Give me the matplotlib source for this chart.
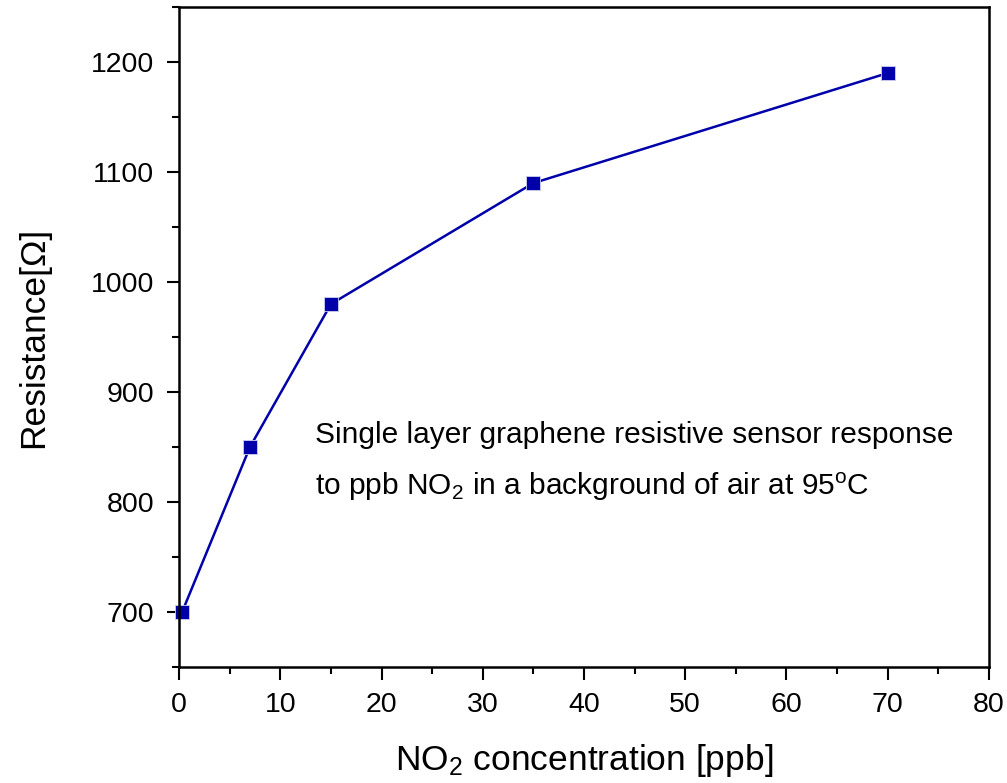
import matplotlib
matplotlib.use('Agg')
import matplotlib.pyplot as plt
from matplotlib.ticker import MultipleLocator

# Sensor data.
no2_ppb = [0.3, 7, 15, 35, 70]
resistance = [700, 850, 980, 1090, 1190]

plt.rcParams['font.family'] = ['Liberation Sans', 'DejaVu Sans']
plt.rcParams['mathtext.fontset'] = 'custom'
plt.rcParams['mathtext.rm'] = 'Liberation Sans'
plt.rcParams['mathtext.it'] = 'Liberation Sans:italic'

fig = plt.figure(figsize=(10.07, 7.83), dpi=100)
ax = fig.add_axes([0.1778, 0.148, 0.8043, 0.843])

ax.plot(no2_ppb, resistance, color='#0000AA', linewidth=1.8, marker='s',
        markersize=10, markerfacecolor='#0000AA', markeredgecolor='#D0D0F0',
        markeredgewidth=0.6, clip_on=False)

ax.set_xlim(0, 80)
ax.set_ylim(650, 1250)
ax.xaxis.set_major_locator(MultipleLocator(10))
ax.xaxis.set_minor_locator(MultipleLocator(5))
ax.yaxis.set_major_locator(MultipleLocator(100))
ax.yaxis.set_minor_locator(MultipleLocator(50))

ax.tick_params(which='major', direction='out', length=9, width=1.5,
               labelsize=20.5, pad=9)
ax.tick_params(which='minor', direction='out', length=5, width=1.5)
for side in ax.spines.values():
    side.set_linewidth(1.8)

ax.set_xlabel('NO$_2$ concentration [ppb]', fontsize=25.5, labelpad=17)
ax.set_ylabel('Resistance[\u03a9]', fontsize=25.5)
ax.yaxis.set_label_coords(-0.159, 0.5)

ax.text(13.4, 853.6, 'Single layer graphene resistive sensor response',
        fontsize=21.5, va='baseline')
ax.text(13.4, 806.4, 'to ppb NO$_2$ in a background of air at 95$^{\\rm o}$C',
        fontsize=21.5, va='baseline')

plt.savefig('out.png', dpi=100)
